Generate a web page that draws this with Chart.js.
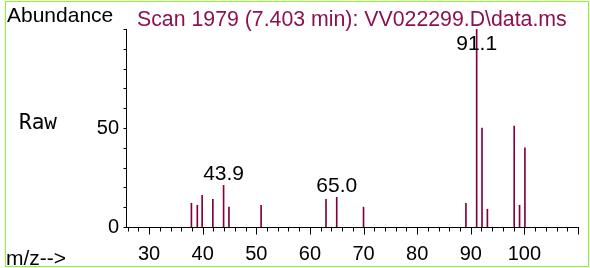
<!DOCTYPE html>
<html><head><meta charset="utf-8">
<script src="https://cdn.jsdelivr.net/npm/chart.js@4/dist/chart.umd.min.js"></script>
<style>html,body{margin:0;padding:0;background:#fff;}canvas{display:block;}</style>
</head><body>
<canvas id="c" width="590" height="268"></canvas>
<script>
// ---- data ----
const mz = [37.9, 39.0, 39.9, 41.9, 43.9, 44.9, 50.9, 63.0, 65.0, 70.0, 89.1, 91.1, 92.1, 93.1, 98.1, 99.1, 100.1];
const abundance = [12, 11, 16, 14, 21, 10, 11, 14, 15, 10, 12, 100, 50, 9, 51, 11, 40];
const peakLabels = ['43.9', '65.0', '91.1'];
const xTickLabels = [30, 40, 50, 60, 70, 80, 90, 100];
const yTickLabels = [0, 50];
const titleText = 'Scan 1979 (7.403 min): VV022299.D\\data.ms';
const yAxisText = 'Abundance';
const modeText = 'Raw';
const xAxisText = 'm/z-->';

const SANS = '"Liberation Sans", Arial, sans-serif';

const decor = {
  id: 'decor',
  afterDraw(chart) {
    const ctx = chart.ctx;
    const xs = chart.scales.x, ys = chart.scales.y;
    const area = chart.chartArea;
    ctx.save();
    // minor/major ticks on x axis
    ctx.strokeStyle = '#000';
    ctx.lineWidth = 1;
    const yb = Math.round(area.bottom) + 0.5;
    for (let v = 26; v <= 110; v += 2) {
      const px = Math.round(xs.getPixelForValue(v)) + 0.5;
      const len = (v % 10 === 0) ? 7 : 4;
      ctx.beginPath(); ctx.moveTo(px, yb); ctx.lineTo(px, yb + len); ctx.stroke();
    }
    // ticks on y axis
    const xl = Math.round(area.left) + 0.5;
    for (let v = 0; v <= 100; v += 10) {
      const py = Math.round(ys.getPixelForValue(v)) + 0.5;
      ctx.beginPath(); ctx.moveTo(xl - 3, py); ctx.lineTo(xl, py); ctx.stroke();
    }
    // peak labels
    ctx.fillStyle = '#000';
    ctx.font = '21px ' + SANS;
    ctx.textAlign = 'center';
    ctx.textBaseline = 'alphabetic';
    peakLabels.forEach(lbl => {
      const i = mz.indexOf(parseFloat(lbl));
      if (i < 0) return;
      const px = xs.getPixelForValue(mz[i]);
      const top = ys.getPixelForValue(abundance[i]);
      const base = Math.max(top - 5, area.top + 21);
      ctx.fillText(lbl, px, base);
    });
    // texts
    ctx.textAlign = 'left';
    ctx.fillStyle = '#000';
    ctx.font = '21px ' + SANS;
    ctx.fillText(yAxisText, 7, 22);
    ctx.fillStyle = '#8b1252';
    ctx.font = '21.3px ' + SANS;
    ctx.fillText(titleText, 137, 26);
    ctx.fillStyle = '#000';
    ctx.font = '21px ' + SANS;
    ctx.fillText(xAxisText, 6, 265);
    ctx.font = '21px "DejaVu Sans Mono", monospace';
    ctx.fillText(modeText, 19, 129);
    // green frame
    ctx.strokeStyle = '#80ff20';
    ctx.lineWidth = 1;
    ctx.strokeRect(5.5, 1.5, 583, 265);
    ctx.restore();
  }
};

new Chart(document.getElementById('c'), {
  type: 'bar',
  data: {
    datasets: [{
      data: mz.map((x, i) => ({ x: x, y: abundance[i] })),
      backgroundColor: '#800040',
      borderWidth: 0,
      barThickness: 1
    }]
  },
  options: {
    responsive: false,
    animation: false,
    layout: { padding: { left: 0, right: 12, top: 29, bottom: 0 } },
    plugins: { legend: { display: false }, tooltip: { enabled: false }, title: { display: false } },
    scales: {
      x: {
        type: 'linear', min: 25.7, max: 110, offset: false,
        grid: { display: false, drawTicks: false },
        border: { display: true, color: '#000', width: 1 },
        afterBuildTicks: s => { s.ticks = xTickLabels.map(v => ({ value: v })); },
        afterFit: s => { s.height = 41; },
        ticks: { color: '#000', font: { family: SANS, size: 20 }, padding: 15, maxRotation: 0, autoSkip: false, callback: v => String(v) }
      },
      y: {
        type: 'linear', min: 0, max: 100,
        grid: { display: false, drawTicks: false },
        border: { display: true, color: '#000', width: 1 },
        afterBuildTicks: s => { s.ticks = yTickLabels.map(v => ({ value: v })); },
        afterFit: s => { s.width = 126; },
        ticks: { color: '#000', font: { family: SANS, size: 20 }, padding: 7, callback: v => String(v) }
      }
    }
  },
  plugins: [decor]
});
</script>
</body></html>
